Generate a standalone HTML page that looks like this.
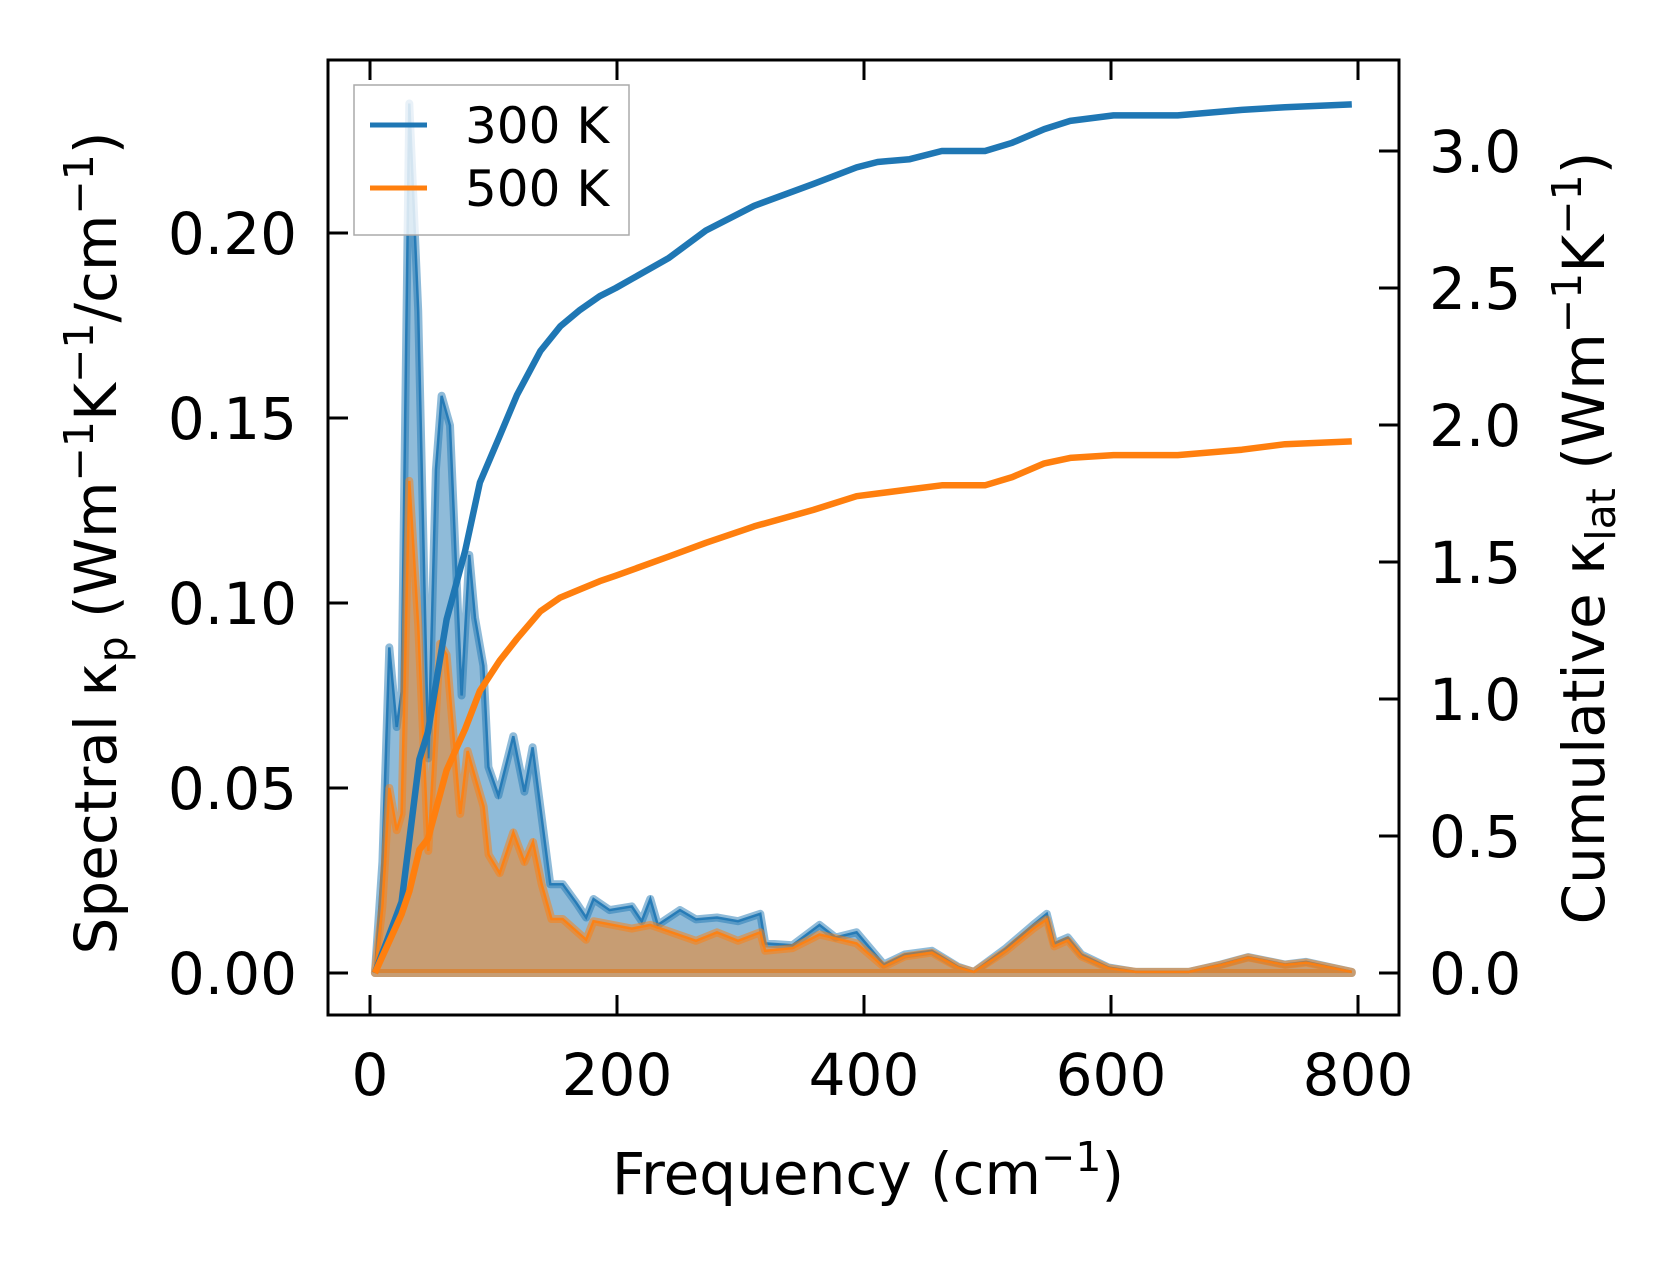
<!DOCTYPE html>
<html><head><meta charset="utf-8">
<style>
html,body{margin:0;padding:0;background:#fff;}
svg{display:block;}
text{font-family:"DejaVu Sans","Liberation Sans",sans-serif;fill:#000;}
</style></head>
<body>
<svg id="chart" width="1679" height="1264" viewBox="0 0 1679 1264" xmlns="http://www.w3.org/2000/svg">
<g id="plot"></g>
<g id="axes"></g>
</svg>
<script>
// ---- data ----
const specFreq300 = [4,10,15.6,21.6,25.6,31.8,39,47.2,53.4,58,64.8,74.2,80.4,85,91.8,95.9,104,116,125,131.7,139,146,156,167,175,181,194,212,220,227,233,251,264,281,298,316,320,342,364,377,394,416,433,455,476,489,515,537,548,554,565,576,598,620,663,689,711,741,758,795];
const spec300 = [0,0.03,0.088,0.0665,0.076,0.235,0.179,0.058,0.136,0.156,0.148,0.075,0.113,0.096,0.083,0.0557,0.048,0.064,0.049,0.061,0.042,0.024,0.024,0.019,0.015,0.020,0.017,0.018,0.014,0.020,0.013,0.017,0.0145,0.015,0.014,0.016,0.008,0.0075,0.013,0.0096,0.011,0.0023,0.005,0.006,0.0017,0.0003,0.0067,0.013,0.016,0.008,0.0096,0.005,0.0015,0.0003,0.0003,0.0023,0.0043,0.0023,0.003,0.0003];
const specFreq500 = [4,10,15.6,21.6,25.6,31.8,39,47.2,56.7,62,73,79,85,92,96,105,116,125,132,139,147,156,175,181,212,227,264,281,298,316,320,342,364,394,416,433,455,476,489,515,537,548,554,565,576,598,620,663,689,711,741,758,795];
const spec500 = [0,0.018,0.050,0.0386,0.043,0.133,0.094,0.033,0.089,0.086,0.043,0.060,0.053,0.045,0.032,0.027,0.038,0.030,0.0354,0.024,0.0146,0.0146,0.009,0.014,0.012,0.013,0.0087,0.011,0.0087,0.011,0.006,0.0067,0.0104,0.008,0.0017,0.0045,0.0055,0.0015,0.0003,0.006,0.012,0.0145,0.0072,0.0088,0.0045,0.0013,0.0003,0.0003,0.0022,0.0042,0.0022,0.0028,0.0003];
const cumFreq = [4,25.6,32,40,47,62,77,89,105,119,138,154,170,186,199,242,272,311,359,394,411,437,463,498,520,546,567,602,654,706,741,795];
const cum300 = [0,0.26,0.49,0.78,0.88,1.29,1.54,1.79,1.96,2.11,2.27,2.36,2.42,2.47,2.50,2.61,2.71,2.80,2.88,2.94,2.96,2.97,3.00,3.00,3.03,3.08,3.11,3.13,3.13,3.15,3.16,3.17];
const cum500 = [0,0.215,0.30,0.45,0.49,0.74,0.89,1.03,1.14,1.22,1.32,1.37,1.40,1.43,1.45,1.52,1.57,1.63,1.69,1.74,1.75,1.765,1.78,1.78,1.81,1.86,1.88,1.89,1.89,1.91,1.93,1.94];
const xTicks = [0,200,400,600,800];
const yTicksL = [0,0.05,0.10,0.15,0.20];
const yTicksLLabels = ["0.00","0.05","0.10","0.15","0.20"];
const yTicksR = [0,0.5,1.0,1.5,2.0,2.5,3.0];
const yTicksRLabels = ["0.0","0.5","1.0","1.5","2.0","2.5","3.0"];

// ---- axes geometry ----
const L=328,R=1399,T=60,B=1015;
const xs = f => 370 + f*(1358-370)/800;
const yL = v => 973 - v*3700;
const yR = v => 973 - v*274;
const NS="http://www.w3.org/2000/svg";
const plot=document.getElementById('plot'), axes=document.getElementById('axes');
function mk(tag,attrs,parent){const e=document.createElementNS(NS,tag);for(const k in attrs)e.setAttribute(k,attrs[k]);parent.appendChild(e);return e;}
function linePts(fx,vals,yf){return fx.map((f,i)=>xs(f).toFixed(1)+','+yf(vals[i]).toFixed(1)).join(' ');}

function drawSpec(fx,vals,col,name){
  const top=linePts(fx,vals,yL);
  const poly=top+' '+xs(fx[fx.length-1]).toFixed(1)+','+yL(0)+' '+xs(fx[0]).toFixed(1)+','+yL(0);
  const p=mk('polygon',{points:poly,fill:col,'fill-opacity':0.5,stroke:col,'stroke-opacity':0.5,'stroke-width':8,'stroke-linejoin':'round'},plot);
  
  
  const l=mk('polyline',{points:top,fill:'none',stroke:col,'stroke-width':2.5,'stroke-opacity':0.9},plot);
  
  
}
drawSpec(specFreq300,spec300,'#1f77b4','spectral-300k');
drawSpec(specFreq500,spec500,'#ff7f0e','spectral-500k');
const c3=mk('polyline',{points:linePts(cumFreq,cum300,yR),fill:'none',stroke:'#1f77b4','stroke-width':6.5,'stroke-linejoin':'round'},plot);


const c5=mk('polyline',{points:linePts(cumFreq,cum500,yR),fill:'none',stroke:'#ff7f0e','stroke-width':6.5,'stroke-linejoin':'round'},plot);



const fr=mk('rect',{x:L,y:T,width:R-L,height:B-T,fill:'none',stroke:'#000','stroke-width':3},axes);


xTicks.forEach(v=>{
  const x=xs(v);
  mk('line',{x1:x,y1:B,x2:x,y2:B-20,stroke:'#000','stroke-width':3},axes);
  mk('line',{x1:x,y1:T,x2:x,y2:T+20,stroke:'#000','stroke-width':3},axes);
  const t=mk('text',{x:x,y:1095,'font-size':58,'text-anchor':'middle'},axes);
  t.textContent=String(v);
  
  
});
yTicksL.forEach((v,i)=>{
  const y=yL(v);
  mk('line',{x1:L,y1:y,x2:L+20,y2:y,stroke:'#000','stroke-width':3},axes);
  const t=mk('text',{x:297,y:y+21,'font-size':58,'text-anchor':'end'},axes);
  t.textContent=yTicksLLabels[i];
  
  
});
yTicksR.forEach((v,i)=>{
  const y=yR(v);
  mk('line',{x1:R,y1:y,x2:R-20,y2:y,stroke:'#000','stroke-width':3},axes);
  const t=mk('text',{x:1429,y:y+21,'font-size':58,'text-anchor':'start'},axes);
  t.textContent=yTicksRLabels[i];
  
  
});
</script>
<svg style="position:absolute;left:0;top:0" width="1679" height="1264" xmlns="http://www.w3.org/2000/svg">
<text x="868" y="1194" font-size="58" text-anchor="middle" font-family="DejaVu Sans, sans-serif">Frequency (cm<tspan dy="-23" font-size="41">−1</tspan><tspan dy="23">)</tspan></text>
<text transform="translate(116,543) rotate(-90)" font-size="58" text-anchor="middle" font-family="DejaVu Sans, sans-serif">Spectral κ<tspan dy="11" font-size="41">p</tspan><tspan dy="-11"> (Wm</tspan><tspan dy="-23" font-size="41">−1</tspan><tspan dy="23">K</tspan><tspan dy="-23" font-size="41">−1</tspan><tspan dy="23">/cm</tspan><tspan dy="-23" font-size="41">−1</tspan><tspan dy="23">)</tspan></text>
<text transform="translate(1604,538) rotate(-90)" font-size="58" text-anchor="middle" font-family="DejaVu Sans, sans-serif">Cumulative κ<tspan dy="11" font-size="41">lat</tspan><tspan dy="-11"> (Wm</tspan><tspan dy="-23" font-size="41">−1</tspan><tspan dy="23">K</tspan><tspan dy="-23" font-size="41">−1</tspan><tspan dy="23">)</tspan></text>
<g>
<rect x="354" y="85" width="275" height="150" fill="#fff" fill-opacity="0.8" stroke="#aaa" stroke-width="1.5"/>
<line x1="370" y1="125" x2="427" y2="125" stroke="#1f77b4" stroke-width="5"/>
<text x="465" y="143" font-size="50" font-family="DejaVu Sans, sans-serif">300 K</text>
<line x1="370" y1="188" x2="427" y2="188" stroke="#ff7f0e" stroke-width="5"/>
<text x="465" y="206" font-size="50" font-family="DejaVu Sans, sans-serif">500 K</text>
</g>
</svg>
</body></html>
